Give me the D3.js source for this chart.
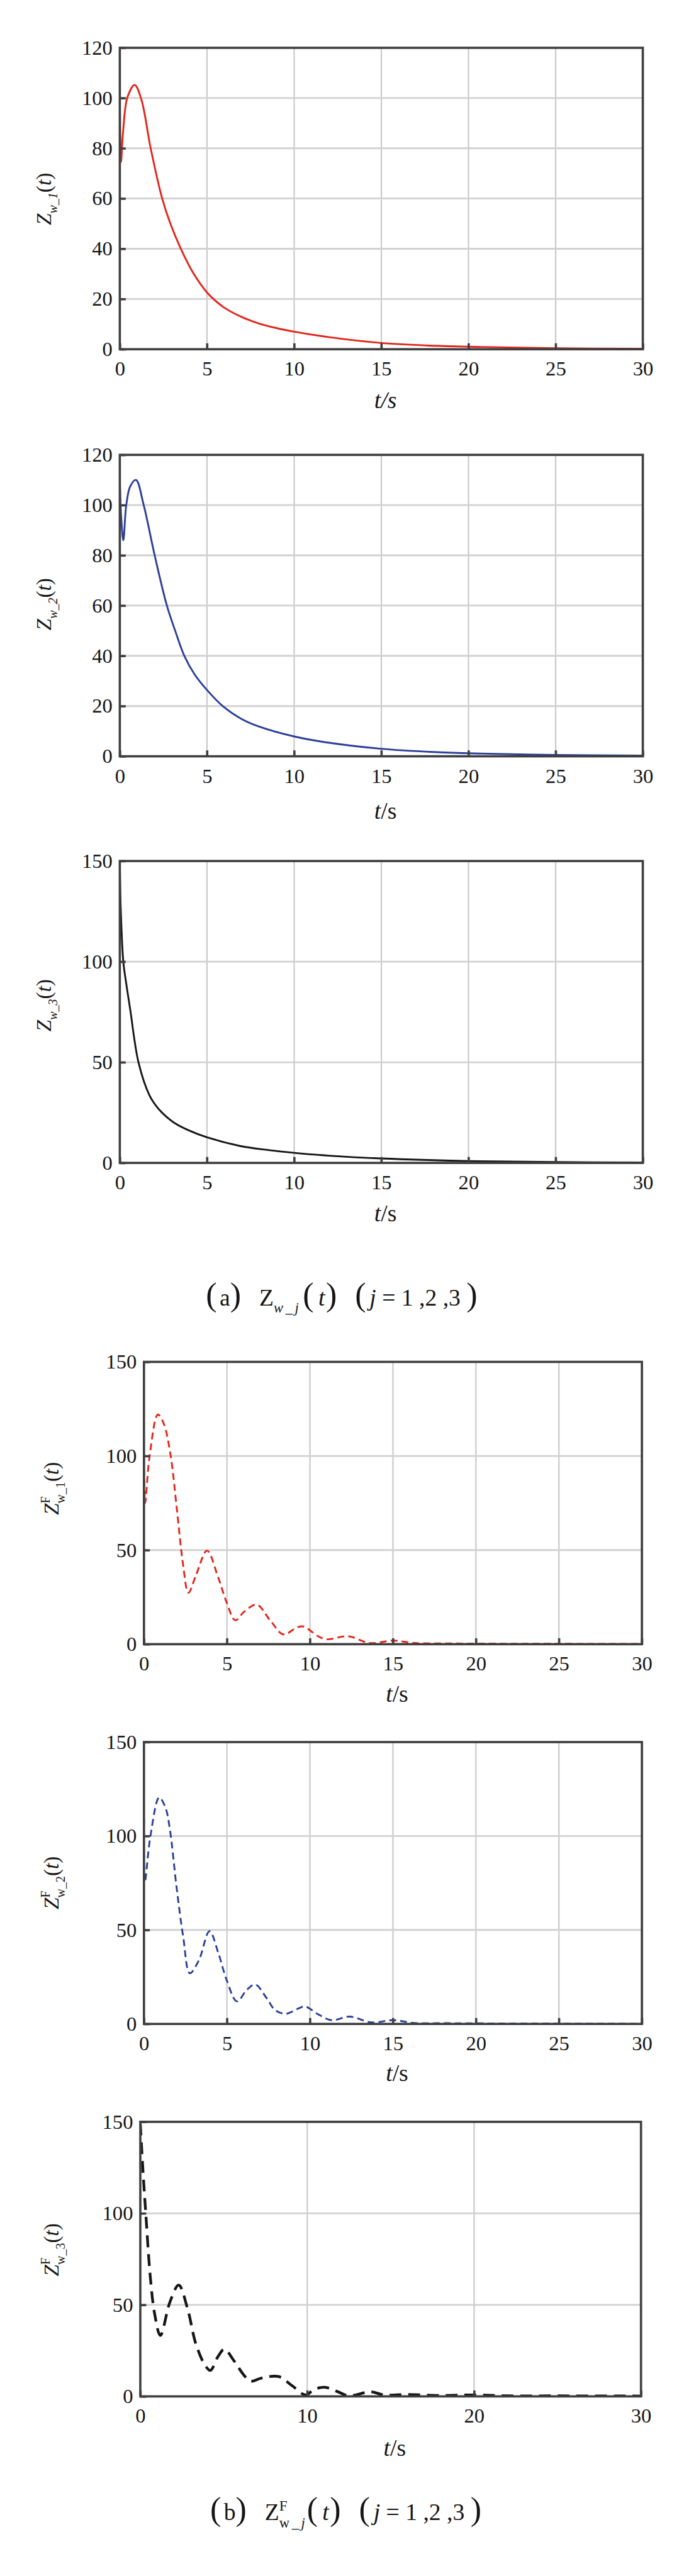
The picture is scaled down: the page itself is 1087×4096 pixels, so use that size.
<!DOCTYPE html>
<html>
<head>
<meta charset="utf-8">
<script src="https://cdn.jsdelivr.net/npm/d3@7/dist/d3.min.js"></script>
<style>
  html, body { margin: 0; padding: 0; background: #fff; }
  svg { display: block; }
  text { font-family: "Liberation Serif", "Times New Roman", serif; fill: #151515; }
</style>
</head>
<body>
<div id="chart"></div>
<script>
// ---- tick values ----
const T_TICKS = [0, 5, 10, 15, 20, 25, 30];
const T_TICKS_WIDE = [0, 10, 20, 30];
const Y_TICKS_120 = [0, 20, 40, 60, 80, 100, 120];
const Y_TICKS_150 = [0, 50, 100, 150];

// ---- (a) Z_w_j(t) ----
const z1T = [0, 0.07, 0.18, 0.44, 0.85, 1.23, 1.77, 2.43, 2.9, 3.5, 4.2, 5, 5.37, 6, 7, 8, 9, 10, 12, 15, 18, 20, 25, 30];
const z1V = [100, 74.6, 86, 100.4, 105.2, 99.6, 80, 60, 50, 40, 30.5, 22.6, 20, 16.5, 12.8, 10.2, 8.4, 7.0, 4.8, 2.5, 1.4, 1.0, 0.4, 0.2];

const z2T = [0, 0.08, 0.2, 0.37, 0.6, 0.93, 1.37, 2.0, 2.7, 3.2, 3.7, 4.3, 5, 5.9, 7, 8, 10, 12, 15, 18, 20, 25, 30];
const z2V = [110, 95, 86, 100, 107.5, 110, 100, 80, 60, 49.5, 40, 32.5, 26.4, 20, 14.8, 11.8, 7.9, 5.4, 3.0, 1.7, 1.2, 0.5, 0.3];

const z3T = [0, 0.05, 0.2, 0.37, 0.6, 1.07, 1.7, 2.13, 2.6, 3.13, 4, 5, 6.9, 8.5, 10, 12, 15, 20, 25, 30];
const z3V = [150, 127, 100, 89, 76, 50, 33.6, 27.8, 23.5, 19.9, 16, 12.7, 8.4, 6.4, 5.0, 3.6, 2.2, 0.9, 0.4, 0.2];

// ---- (b) Z^F_w_j(t) ----
const f1T = [0, 0.07, 0.34, 0.84, 1.2, 1.6, 1.97, 2.36, 2.68, 3.15, 3.8, 4.46, 4.99, 5.5, 6.04, 6.8, 7.6, 8.4, 9.2, 9.6, 10.5, 11, 12.3, 13.6, 15, 16.3, 18, 20, 25, 30];
const f1V = [99, 75, 100, 122, 117, 100.6, 72.8, 42, 27.3, 37, 49.7, 35.8, 22, 12.7, 17.3, 21, 12.7, 5.2, 8.8, 9.4, 4.2, 2.6, 4.2, 0.6, 1.9, 0.6, 0.4, 0.3, 0.2, 0.1];

const f2T = [0, 0.05, 0.39, 0.92, 1.3, 1.57, 1.97, 2.37, 2.76, 3.3, 3.95, 4.47, 5, 5.6, 6.2, 6.7, 7.4, 7.9, 8.55, 9.3, 9.7, 10.5, 11.3, 12.4, 13.7, 15, 16.3, 18, 20, 25, 30];
const f2V = [109, 75.4, 100, 120.5, 115, 103, 72.3, 46, 27, 33.7, 49.4, 38, 22.9, 12, 18.2, 21, 13.6, 7.4, 5.4, 8.2, 9.3, 5.1, 2, 3.9, 0.8, 2, 0.5, 0.4, 0.3, 0.2, 0.1];

const f3T = [0, 0.16, 0.34, 0.6, 0.86, 1.2, 1.78, 2.3, 2.82, 3.34, 3.9, 4.2, 4.65, 5.04, 5.57, 6.2, 6.6, 7.26, 8.3, 9.1, 9.9, 10.4, 11.05, 11.84, 12.5, 13.8, 14.6, 16, 18, 20, 22, 25, 30];
const f3V = [149, 123, 98.3, 65, 45, 33.3, 51.7, 60.8, 48.3, 28.3, 16.7, 14.2, 21.7, 25.8, 20, 11.7, 8.3, 10, 10.8, 5.8, 0.8, 3.7, 5, 2.5, 0.3, 2.5, 0.8, 1, 0.5, 0.8, 0.3, 0.3, 0.2];

const RED = "#e1261c";
const BLUE = "#2c3f98";
const BLACK = "#161616";
const FRAME = "#3f3f3f";

// the reference is 1500 x 5650; draw in its units and let the viewBox scale it down
const W = 1500, H = 5650;
const svg = d3.select("#chart").append("svg")
  .attr("width", W * 0.724)
  .attr("height", H * 0.724)
  .attr("viewBox", `0 0 ${W} ${H}`);

function yLabelA(n) {
  return [{ t: "Z", it: true }, { t: `w_${n}`, it: true, sub: true }, { t: "(" }, { t: "t", it: true }, { t: ")" }];
}
function yLabelB(n) {
  return [{ t: "Z", it: true }, { t: "F", sup: true, hold: true }, { t: `w_${n}`, sub: true }, { t: "(" }, { t: "t", it: true }, { t: ")" }];
}

const panels = [
  { t: z1T, v: z1V, color: RED, dash: null, sw: 4, ymax: 120, yTicks: Y_TICKS_120, xTicks: T_TICKS,
    box: [263, 105, 1411, 767], label: yLabelA(1), lx: 112, ly: 437, titleOff: 130, italicS: true },
  { t: z2T, v: z2V, color: BLUE, dash: null, sw: 4, ymax: 120, yTicks: Y_TICKS_120, xTicks: T_TICKS,
    box: [263, 999, 1411, 1661], label: yLabelA(2), lx: 112, ly: 1327, titleOff: 138 },
  { t: z3T, v: z3V, color: BLACK, dash: null, sw: 4, ymax: 150, yTicks: Y_TICKS_150, xTicks: T_TICKS,
    box: [263, 1891, 1411, 2554], label: yLabelA(3), lx: 112, ly: 2208, titleOff: 129 },
  { t: f1T, v: f1V, color: RED, dash: "15,9", sw: 4, ymax: 150, yTicks: Y_TICKS_150, xTicks: T_TICKS,
    box: [316, 2991, 1409, 3611], label: yLabelB(1), lx: 128, ly: 3269, titleOff: 127 },
  { t: f2T, v: f2V, color: BLUE, dash: "15,9", sw: 4, ymax: 150, yTicks: Y_TICKS_150, xTicks: T_TICKS,
    box: [316, 3826, 1409, 4445], label: yLabelB(2), lx: 128, ly: 4135, titleOff: 126 },
  { t: f3T, v: f3V, color: BLACK, dash: "26,15", sw: 6, ymax: 150, yTicks: Y_TICKS_150, xTicks: T_TICKS_WIDE,
    box: [308, 4660, 1407, 5263], label: yLabelB(3), lx: 128, ly: 4941, titleOff: 130 },
];

// lays out a run of text pieces with sub/superscripts, returns total width
function richText(parent, parts, size) {
  const g = parent.append("g");
  let x = 0;
  for (const p of parts) {
    x += p.gap || 0;
    const small = p.sub || p.sup;
    const fs = p.size || (small ? size * 0.6 : size);
    const t = g.append("text")
      .attr("x", x)
      .attr("y", p.sub ? size * 0.3 : p.sup ? -size * 0.42 : 0)
      .attr("font-size", fs)
      .attr("font-style", p.it ? "italic" : "normal")
      .attr("letter-spacing", p.ls || null)
      .style("white-space", "pre")
      .text(p.t);
    const w = t.node().getComputedTextLength();
    if (!p.hold) x += w;
  }
  return { g, width: x };
}

panels.forEach((p, i) => {
  const [x0, y0, x1, y1] = p.box;
  const x = d3.scaleLinear().domain([0, 30]).range([x0, x1]);
  const y = d3.scaleLinear().domain([0, p.ymax]).range([y1, y0]);
  const g = svg.append("g");

  // grid
  g.append("g").selectAll("line")
    .data(p.xTicks.filter((d) => d > 0 && d < 30))
    .join("line")
    .attr("x1", (d) => x(d)).attr("x2", (d) => x(d))
    .attr("y1", y0).attr("y2", y1)
    .attr("stroke", "#c9c9c9").attr("stroke-width", 3);
  g.append("g").selectAll("line")
    .data(p.yTicks.filter((d) => d > 0 && d < p.ymax))
    .join("line")
    .attr("x1", x0).attr("x2", x1)
    .attr("y1", (d) => y(d)).attr("y2", (d) => y(d))
    .attr("stroke", "#d2d2d2").attr("stroke-width", 4);

  // curve
  const clipId = `clip${i}`;
  g.append("clipPath").attr("id", clipId)
    .append("rect").attr("x", x0).attr("y", y0 - 4).attr("width", x1 - x0).attr("height", y1 - y0 + 4);
  const pts = p.t.map((t, k) => [t, p.v[k]]);
  const line = d3.line()
    .x((d) => x(d[0]))
    .y((d) => y(d[1]))
    .curve(d3.curveCatmullRom.alpha(0.5));
  g.append("path")
    .datum(pts)
    .attr("clip-path", `url(#${clipId})`)
    .attr("d", line)
    .attr("fill", "none")
    .attr("stroke", p.color)
    .attr("stroke-width", p.sw)
    .attr("stroke-linejoin", "round")
    .attr("stroke-dasharray", p.dash);

  // axes: inward ticks, serif labels
  const xAxis = g.append("g")
    .attr("transform", `translate(0,${y1})`)
    .call(d3.axisBottom(x).tickValues(p.xTicks).tickSize(-13).tickPadding(26).tickFormat(d3.format("d")));
  const yAxis = g.append("g")
    .attr("transform", `translate(${x0},0)`)
    .call(d3.axisLeft(y).tickValues(p.yTicks).tickSize(-13).tickPadding(16).tickFormat(d3.format("d")));
  [xAxis, yAxis].forEach((a) => {
    a.attr("font-family", null).attr("font-size", null);
    a.select(".domain").remove();
    a.selectAll(".tick line").attr("stroke", FRAME).attr("stroke-width", 5);
    a.selectAll(".tick text").attr("fill", "#151515").style("font-size", "45px");
  });

  // frame
  g.append("rect")
    .attr("x", x0).attr("y", y0)
    .attr("width", x1 - x0).attr("height", y1 - y0)
    .attr("fill", "none").attr("stroke", FRAME).attr("stroke-width", 5);

  // x title
  const xt = g.append("text")
    .attr("x", (x0 + x1) / 2 + 9)
    .attr("y", y1 + p.titleOff)
    .attr("text-anchor", "middle")
    .attr("font-size", 52);
  xt.append("tspan").attr("font-style", "italic").text("t");
  xt.append("tspan").attr("font-style", p.italicS ? "italic" : "normal").text("/s");

  // y title, rotated
  const lab = richText(g, p.label, 46);
  lab.g.attr("transform", `translate(${p.lx},${p.ly}) rotate(-90) translate(${-lab.width / 2},0)`);
});

// captions: big brackets, loose spacing as in the printed figure
const BR = 72;
const capA = richText(svg, [
  { t: "(", size: BR }, { t: "a", gap: 6 }, { t: ")", size: BR },
  { t: "Z", gap: 40 }, { t: "w_j", it: true, sub: true, ls: 5 },
  { t: "(", size: BR, gap: 4 }, { t: "t", it: true, gap: 10 }, { t: ")", size: BR, gap: 2 },
  { t: "(", size: BR, gap: 40 }, { t: "j", it: true, gap: 8 }, { t: " = 1 ,2 ,3 " }, { t: ")", size: BR },
], 52);
capA.g.attr("transform", `translate(${750 - capA.width / 2},2867)`);

const capB = richText(svg, [
  { t: "(", size: BR }, { t: "b", gap: 6 }, { t: ")", size: BR },
  { t: "Z", gap: 40 }, { t: "F", sup: true, hold: true, size: 32 }, { t: "w_", sub: true, ls: 5 }, { t: "j", it: true, sub: true },
  { t: "(", size: BR, gap: 4 }, { t: "t", it: true, gap: 10 }, { t: ")", size: BR, gap: 2 },
  { t: "(", size: BR, gap: 40 }, { t: "j", it: true, gap: 8 }, { t: " = 1 ,2 ,3 " }, { t: ")", size: BR },
], 52);
capB.g.attr("transform", `translate(${759 - capB.width / 2},5535)`);
</script>
</body>
</html>
